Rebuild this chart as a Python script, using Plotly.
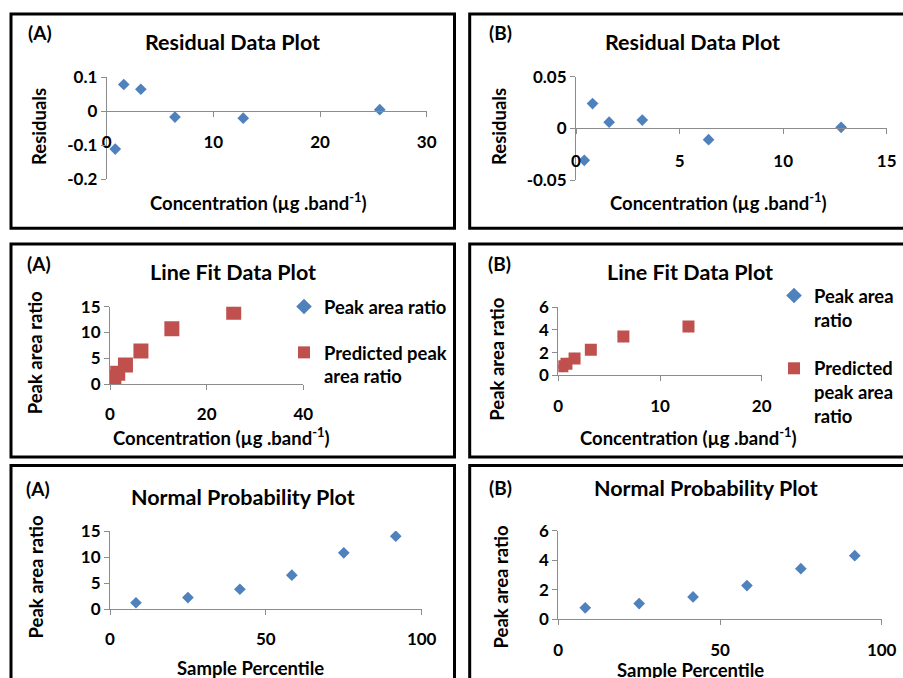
import plotly.graph_objects as go

W, H = 903, 678

# ---------------- data ----------------
conc_A = [0.8, 1.6, 3.2, 6.4, 12.8, 25.6]
resid_A = [-0.112, 0.078, 0.064, -0.018, -0.021, 0.004]
peak_A = [1.2, 2.2, 3.8, 6.5, 10.8, 14.0]
pred_A = [1.3, 2.1, 3.7, 6.4, 10.7, 13.9]

conc_B = [0.4, 0.8, 1.6, 3.2, 6.4, 12.8]
resid_B = [-0.031, 0.024, 0.006, 0.008, -0.011, 0.001]
peak_B = [0.76, 1.05, 1.5, 2.27, 3.42, 4.3]
pred_B = [0.79, 1.03, 1.49, 2.26, 3.43, 4.3]

percentile = [8.33, 25, 41.67, 58.33, 75, 91.67]

resA_yticks = [-0.2, -0.1, 0, 0.1]
resA_yticktext = ["-0.2", "-0.1", "0", "0.1"]
resB_yticks = [-0.05, 0, 0.05]
resB_yticktext = ["-0.05", "0", "0.05"]

BLUE = "#4F81BD"
RED = "#C0504D"
AXC = "#8C8C8C"
FONT = "Lato"


def px(x):
    return x / W


def py(y):
    return 1 - y / H


fig = go.Figure()

panels = {
    1: dict(xd=(106.7, 426.7), yd=(77, 179)),       # residual A
    2: dict(xd=(576, 886.7), yd=(76.7, 180)),       # residual B
    3: dict(xd=(110, 303.3), yd=(306.7, 384)),      # line fit A
    4: dict(xd=(558.3, 761.7), yd=(307.3, 375.3)),  # line fit B
    5: dict(xd=(110, 421.7), yd=(531, 609)),        # normal A
    6: dict(xd=(558.3, 881.7), yd=(530.7, 619)),    # normal B
}

tickfont = dict(family=FONT, size=17, color="black", weight="bold")


def xname(i):
    return "x" if i == 1 else f"x{i}"


def yname(i):
    return "y" if i == 1 else f"y{i}"


fig.add_trace(go.Scatter(x=conc_A, y=resid_A, mode="markers", xaxis="x", yaxis="y",
                         marker=dict(symbol="diamond", size=9, color=BLUE), showlegend=False))
fig.add_trace(go.Scatter(x=conc_B, y=resid_B, mode="markers", xaxis="x2", yaxis="y2",
                         marker=dict(symbol="diamond", size=9, color=BLUE), showlegend=False))

fig.add_trace(go.Scatter(x=conc_A, y=peak_A, mode="markers", xaxis="x3", yaxis="y3",
                         name="Peak area ratio", legend="legend", legendgroup="a1",
                         marker=dict(symbol="diamond", size=9, color=BLUE)))
fig.add_trace(go.Scatter(x=conc_A, y=pred_A, mode="markers", xaxis="x3", yaxis="y3",
                         name="Predicted peak<br>area ratio", legend="legend", legendgroup="a2",
                         marker=dict(symbol="square", size=15, color=RED)))

fig.add_trace(go.Scatter(x=conc_B, y=peak_B, mode="markers", xaxis="x4", yaxis="y4",
                         name="Peak area<br>ratio", legend="legend2", legendgroup="b1",
                         marker=dict(symbol="diamond", size=9, color=BLUE)))
fig.add_trace(go.Scatter(x=conc_B, y=pred_B, mode="markers", xaxis="x4", yaxis="y4",
                         name="Predicted<br>peak area<br>ratio", legend="legend2", legendgroup="b2",
                         marker=dict(symbol="square", size=12, color=RED)))

fig.add_trace(go.Scatter(x=percentile, y=peak_A, mode="markers", xaxis="x5", yaxis="y5",
                         marker=dict(symbol="diamond", size=9, color=BLUE), showlegend=False))
fig.add_trace(go.Scatter(x=percentile, y=peak_B, mode="markers", xaxis="x6", yaxis="y6",
                         marker=dict(symbol="diamond", size=9, color=BLUE), showlegend=False))

layout = dict(
    width=W, height=H, margin=dict(l=0, r=0, t=0, b=0, autoexpand=False),
    paper_bgcolor="white", plot_bgcolor="white",
    font=dict(family=FONT, color="black"),
)

axis_cfg = {
    1: dict(xr=[0, 30], xdt=10, yr=[-0.2, 0.1], ytv=resA_yticks, ytt=resA_yticktext, xline_y=111, lblgap=11),
    2: dict(xr=[0, 15], xdt=5, yr=[-0.05, 0.05], ytv=resB_yticks, ytt=resB_yticktext, xline_y=128.3, lblgap=12),
    3: dict(xr=[0, 40], xdt=20, yr=[0, 15], ydt=5, xline_y=None, lblgap=10),
    4: dict(xr=[0, 20], xdt=10, yr=[0, 6], ydt=2, xline_y=None, lblgap=10),
    5: dict(xr=[0, 100], xdt=50, yr=[0, 15], ydt=5, xline_y=None, lblgap=10),
    6: dict(xr=[0, 100], xdt=50, yr=[0, 6], ydt=2, xline_y=None, lblgap=11),
}

for i, p in panels.items():
    c = axis_cfg[i]
    xa = dict(domain=[px(p["xd"][0]), px(p["xd"][1])], range=c["xr"], dtick=c["xdt"], tick0=0,
              showgrid=False, zeroline=False, showline=True, linecolor=AXC, linewidth=1,
              ticks="outside", ticklen=5, tickcolor=AXC, tickfont=tickfont,
              ticklabelstandoff=c["lblgap"], fixedrange=True, automargin=False)
    if c["xline_y"] is not None:
        xa.update(anchor="free", position=py(c["xline_y"]))
    else:
        xa.update(anchor=yname(i))
    ya = dict(domain=[py(p["yd"][1]), py(p["yd"][0])], range=c["yr"], anchor=xname(i),
              showgrid=False, zeroline=False, showline=True, linecolor=AXC, linewidth=1,
              ticks="outside", ticklen=5, tickcolor=AXC, tickfont=tickfont, fixedrange=True,
              automargin=False)
    if "ytv" in c:
        ya.update(tickmode="array", tickvals=c["ytv"], ticktext=c["ytt"])
    else:
        ya.update(dtick=c["ydt"], tick0=0)
    layout["xaxis" if i == 1 else f"xaxis{i}"] = xa
    layout["yaxis" if i == 1 else f"yaxis{i}"] = ya

legfont = dict(family=FONT, size=18.4, color="black", weight="bold")
layout["legend"] = dict(x=px(284), y=py(288), xanchor="left", yanchor="top", font=legfont,
                        bgcolor="rgba(0,0,0,0)", borderwidth=0, traceorder="grouped",
                        tracegroupgap=19, valign="top", itemsizing="constant")
layout["legend2"] = dict(x=px(774), y=py(277), xanchor="left", yanchor="top", font=legfont,
                         bgcolor="rgba(0,0,0,0)", borderwidth=0, traceorder="grouped",
                         tracegroupgap=22, valign="top", itemsizing="constant")

fig.update_layout(**layout)

boxes = [(11, 14, 454.5, 228.3), (469.7, 14, 906, 228.3),
         (11, 244, 454.5, 457), (469.7, 244, 906, 457),
         (11, 465.5, 454.5, 690), (469.7, 465.5, 906, 690)]
for x0, y0, x1, y1 in boxes:
    fig.add_shape(type="rect", xref="paper", yref="paper", x0=px(x0), x1=px(x1), y0=py(y1), y1=py(y0),
                  line=dict(color="black", width=3), fillcolor="rgba(0,0,0,0)", layer="above")


def ann(text, x, y, size, angle=0):
    fig.add_annotation(text=text, x=px(x), y=py(y), xref="paper", yref="paper", showarrow=False,
                       xanchor="center", yanchor="middle", textangle=angle,
                       font=dict(family=FONT, size=size, color="black", weight="bold"))


conc_title = "Concentration (µg .band<sup>-1</sup>)"
TS = 21.5
AS = 18.5

ann("(A)", 40, 33, 19)
ann("Residual Data Plot", 232.8, 41.7, TS)
ann("Residuals", 38.3, 126.7, AS, -90)
ann(conc_title, 258.3, 201.7, AS)

ann("(B)", 500, 33, 19)
ann("Residual Data Plot", 692.5, 41.7, TS)
ann("Residuals", 498.3, 126.7, AS, -90)
ann(conc_title, 718.3, 201.7, AS)

ann("(A)", 39.3, 263.3, 19)
ann("Line Fit Data Plot", 232.5, 271.7, TS)
ann("Peak area ratio", 35, 353.3, AS, -90)
ann(conc_title, 221.7, 436.7, AS)

ann("(B)", 499.3, 263.3, 19)
ann("Line Fit Data Plot", 690, 271.7, TS)
ann("Peak area ratio", 496.7, 359, AS, -90)
ann(conc_title, 688.3, 436.7, AS)

ann("(A)", 38.3, 488.3, 19)
ann("Normal Probability Plot", 242.5, 496.7, TS)
ann("Peak area ratio", 35, 577.5, AS, -90)
ann("Sample Percentile", 250, 668.3, AS)

ann("(B)", 500, 487, 19)
ann("Normal Probability Plot", 705.8, 488.3, TS)
ann("Peak area ratio", 500, 587.5, AS, -90)
ann("Sample Percentile", 690, 670, AS)

fig.write_html("out.html", config={"displayModeBar": False},
               post_script="document.body.style.margin='0';document.body.style.overflow='hidden';")
